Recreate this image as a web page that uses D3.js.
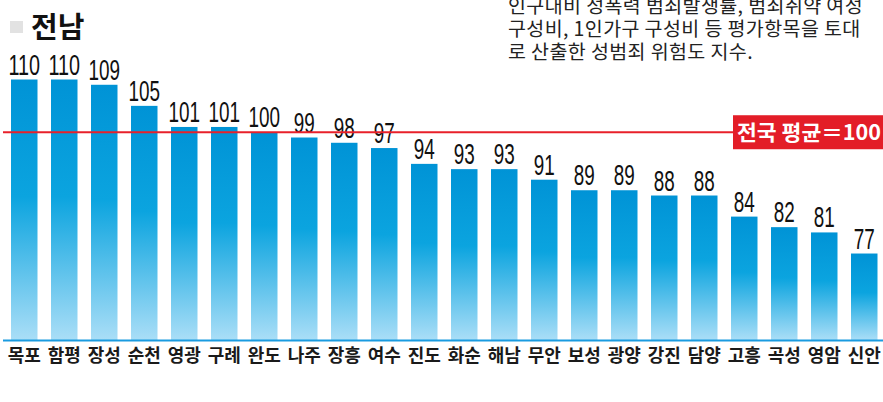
<!DOCTYPE html>
<html>
<head>
<meta charset="utf-8">
<script src="https://cdn.jsdelivr.net/npm/d3@7"></script>
<style>
  html, body { margin: 0; padding: 0; background: #fff; }
  svg { display: block; }
</style>
</head>
<body>
<svg id="chart"></svg>
<script>
// regions and risk index (전국 평균 = 100)
var regions = ['목포', '함평', '장성', '순천', '영광', '구례', '완도', '나주', '장흥', '여수', '진도',
               '화순', '해남', '무안', '보성', '광양', '강진', '담양', '고흥', '곡성', '영암', '신안'];
var scores = [110, 110, 109, 105, 101, 101, 100, 99, 98, 97, 94,
              93, 93, 91, 89, 89, 88, 88, 84, 82, 81, 77];
var average = 100;
var averageLabel = '전국 평균＝100';
var title = '전남';
var noteLines = [
    '인구대비 성폭력 범죄발생률, 범죄취약 여성',
    '구성비, 1인가구 구성비 등 평가항목을 토대',
    '로 산출한 성범죄 위험도 지수.'
];

var W = 883, H = 402;
var baseY = 340;

var svg = d3.select('svg#chart')
    .attr('width', W)
    .attr('height', H);

var data = regions.map(function(r, i) { return {region: r, score: scores[i]}; });

var x = d3.scaleBand()
    .domain(regions)
    .range([11, 877.5])
    .paddingInner(0.3375)
    .paddingOuter(0);

var y = d3.scaleLinear()
    .domain([60.6, 110])
    .range([baseY, 79.5]);

// bar gradient (per bar)
var defs = svg.append('defs');
var grad = defs.append('linearGradient')
    .attr('id', 'barGrad')
    .attr('x1', 0).attr('y1', 0).attr('x2', 0).attr('y2', 1);
grad.append('stop').attr('offset', '0%').attr('stop-color', '#0093d6');
grad.append('stop').attr('offset', '45%').attr('stop-color', '#0ba4df');
grad.append('stop').attr('offset', '100%').attr('stop-color', '#aadef7');

// title
svg.append('rect')
    .attr('x', 10).attr('y', 21)
    .attr('width', 13).attr('height', 12)
    .style('fill', '#e2e2e2');
svg.append('text')
    .attr('x', 31).attr('y', 38)
    .style('font-family', '"Noto Sans CJK KR", sans-serif')
    .style('font-weight', 'bold')
    .style('font-size', '29px')
    .style('fill', '#111')
    .text(title);

// note
svg.append('g').selectAll('text')
    .data(noteLines)
    .enter().append('text')
    .attr('x', 508)
    .attr('y', function(d, i) { return 13 + i * 23; })
    .style('font-family', '"Noto Sans CJK KR", sans-serif')
    .style('font-size', '19.5px')
    .style('letter-spacing', '0.4px')
    .style('fill', '#222')
    .text(function(d) { return d; });

// bars
svg.append('g').selectAll('rect.bar')
    .data(data)
    .enter().append('rect')
    .attr('class', 'bar')
    .attr('x', function(d) { return x(d.region); })
    .attr('y', function(d) { return y(d.score); })
    .attr('width', x.bandwidth())
    .attr('height', function(d) { return baseY - y(d.score); })
    .style('fill', 'url(#barGrad)');

// value labels
svg.append('g').selectAll('text')
    .data(data)
    .enter().append('text')
    .attr('x', function(d) { return x(d.region) + x.bandwidth() / 2; })
    .attr('y', function(d) { return y(d.score) - 5; })
    .attr('text-anchor', 'middle')
    .attr('textLength', function(d) { return String(d.score).length * 10.5; })
    .attr('lengthAdjust', 'spacingAndGlyphs')
    .style('font-family', '"Liberation Sans Narrow", "Liberation Sans", sans-serif')
    .style('font-size', '29px')
    .style('fill', '#111')
    .text(function(d) { return d.score; });

// baseline
svg.append('line')
    .attr('x1', 3).attr('x2', W)
    .attr('y1', baseY + 0.5).attr('y2', baseY + 0.5)
    .style('stroke', '#1a9be0')
    .style('stroke-width', '2px');

// category labels
svg.append('g').selectAll('text')
    .data(data)
    .enter().append('text')
    .attr('x', function(d) { return x(d.region) + x.bandwidth() / 2; })
    .attr('y', 362)
    .attr('text-anchor', 'middle')
    .style('font-family', '"Noto Sans CJK KR", sans-serif')
    .style('font-weight', 'bold')
    .style('font-size', '18px')
    .style('fill', '#1a1a1a')
    .text(function(d) { return d.region; });

// national average line + tag
var avgY = y(average);
svg.append('line')
    .attr('x1', 3).attr('x2', 733)
    .attr('y1', avgY).attr('y2', avgY)
    .style('stroke', '#e8202a')
    .style('stroke-width', '2px');
svg.append('rect')
    .attr('x', 733).attr('y', avgY - 17)
    .attr('width', W - 733).attr('height', 34)
    .style('fill', '#e31d27');
svg.append('text')
    .attr('x', 737).attr('y', avgY + 8)
    .attr('textLength', 144)
    .attr('lengthAdjust', 'spacingAndGlyphs')
    .style('font-family', '"Noto Sans CJK KR", sans-serif')
    .style('font-weight', 'bold')
    .style('font-size', '21px')
    .style('fill', '#fff')
    .text(averageLabel);
</script>
</body>
</html>
